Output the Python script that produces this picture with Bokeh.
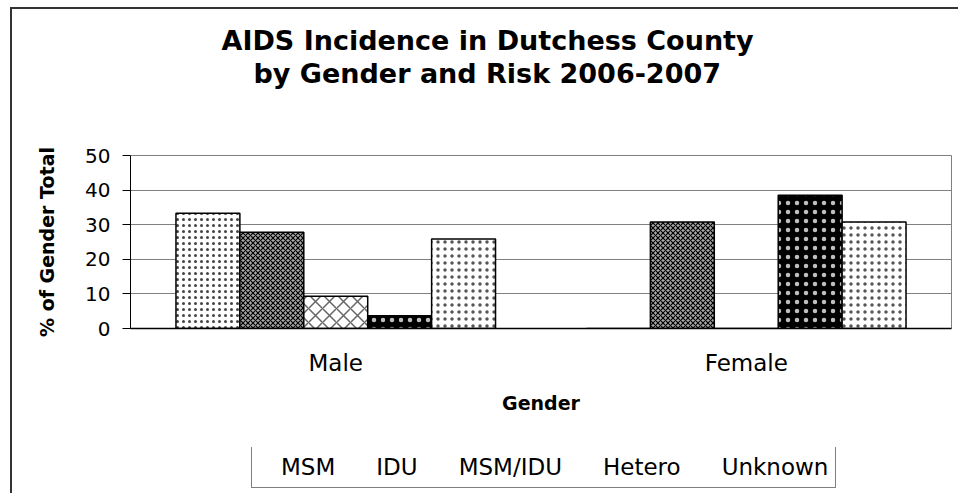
from bokeh.plotting import figure
from bokeh.layouts import column
from bokeh.models import (FactorRange, Range1d, Legend, LegendItem, Title,
                          CategoricalAxis, FixedTicker, ColumnDataSource)
from bokeh.transform import dodge
from bokeh.embed import file_html
from bokeh.resources import INLINE

genders = ["Male", "Female"]
risks = ["MSM", "IDU", "MSM/IDU", "Hetero", "Unknown"]
msm = [33.3, 0.0]
idu = [27.8, 30.8]
msm_idu = [9.3, 0.0]
hetero = [3.7, 38.5]
unknown = [25.9, 30.8]
y_ticks = [0, 10, 20, 30, 40, 50]

FONT = "DejaVu Sans"

p = figure(x_range=FactorRange(*genders, range_padding=0), y_range=Range1d(0, 50),
           width=958, height=447, output_backend="svg", toolbar_location=None,
           x_axis_location=None, title=None,
           min_border_left=130, min_border_top=155, min_border_right=7, min_border_bottom=119)
p.border_fill_alpha = 0
p.styles = {"background": "linear-gradient(#333,#333) 10px 7px / 2px 100% no-repeat, "
                          "linear-gradient(#333,#333) 10px 7px / 100% 2px no-repeat, #ffffff"}

src = ColumnDataSource(dict(gender=genders, msm=msm, idu=idu, msm_idu=msm_idu,
                            hetero=hetero, unknown=unknown))
cols = ["msm", "idu", "msm_idu", "hetero", "unknown"]
bw = 0.1557
offsets = [-2 * bw, -bw, 0.0, bw, 2 * bw]
styles = [
    dict(fill_color="white", hatch_pattern="dot", hatch_color="#444", hatch_scale=6, hatch_weight=1.5),
    dict(fill_color="#a8a8a8", hatch_pattern="diagonal_cross", hatch_color="black", hatch_scale=5, hatch_weight=1.2),
    dict(fill_color="white", hatch_pattern="diagonal_cross", hatch_color="#666", hatch_scale=14, hatch_weight=1.5),
    dict(fill_color="black", hatch_pattern="dot", hatch_color="white", hatch_scale=9, hatch_weight=0.5, hatch_alpha=0.75),
    dict(fill_color="white", hatch_pattern="dot", hatch_color="#555", hatch_scale=7, hatch_weight=1.5),
]
for col, off, st in zip(cols, offsets, styles):
    p.vbar(x=dodge("gender", off, range=p.x_range), top=col, width=bw, source=src,
           line_color="black", line_width=1.5, **st)

# y axis
p.yaxis.ticker = FixedTicker(ticks=y_ticks)
p.yaxis.axis_line_color = "black"
p.yaxis.major_tick_out = 8
p.yaxis.major_tick_in = 0
p.yaxis.minor_tick_line_color = None
p.yaxis.major_tick_line_color = "black"
p.yaxis.major_label_text_font = FONT
p.yaxis.major_label_text_font_size = "20px"
p.yaxis.major_label_text_color = "black"
p.yaxis.major_label_standoff = 12
p.yaxis.axis_label = "% of Gender Total"
p.yaxis.axis_label_text_font = FONT
p.yaxis.axis_label_text_font_size = "19px"
p.yaxis.axis_label_text_font_style = "bold"
p.yaxis.axis_label_text_color = "black"
p.yaxis.axis_label_standoff = 24

p.ygrid.grid_line_color = "#808080"
p.ygrid.grid_line_width = 1
p.xgrid.grid_line_color = None
p.outline_line_color = "#808080"
p.outline_line_width = 1

cat_axis = CategoricalAxis(axis_line_color="black", axis_line_width=1.5,
                           major_tick_line_color=None, minor_tick_line_color=None,
                           major_label_text_font=FONT, major_label_text_font_size="23px",
                           major_label_text_color="black", major_label_standoff=15,
                           axis_label="Gender", axis_label_text_font=FONT,
                           axis_label_text_font_size="19px", axis_label_text_font_style="bold",
                           axis_label_text_color="black", axis_label_standoff=13)
p.add_layout(cat_axis, "below")

# titles
spacer = Title(text=" ", text_font_size="58px", standoff=0)
t2 = Title(text="by Gender and Risk 2006-2007", align="left", offset=123,
           text_font=FONT, text_font_size="27px", text_font_style="bold", text_color="black", standoff=0)
t1 = Title(text="AIDS Incidence in Dutchess County", align="left", offset=91,
           text_font=FONT, text_font_size="27px", text_font_style="bold", text_color="black", standoff=0)
p.add_layout(spacer, "above")
p.add_layout(t2, "above")
p.add_layout(t1, "above")

# legend strip below the chart: legend-only renderers with the same styles, no data drawn
p2 = figure(x_range=FactorRange(*genders, range_padding=0), y_range=Range1d(0, 50),
            width=958, height=46, output_backend="svg", toolbar_location=None,
            x_axis_location=None, y_axis_location=None, title=None,
            min_border_left=0, min_border_top=0, min_border_right=0, min_border_bottom=0)
p2.grid.grid_line_color = None
p2.outline_line_color = None
p2.border_fill_alpha = 0
p2.background_fill_alpha = 0
p2.styles = {"background": "linear-gradient(#333,#333) 10px 0px / 2px 100% no-repeat, #ffffff"}
empty_src = ColumnDataSource(dict(gender=[], msm=[], idu=[], msm_idu=[], hetero=[], unknown=[]))
items = []
for col, off, st, name in zip(cols, offsets, styles, risks):
    r = p2.vbar(x=dodge("gender", off, range=p2.x_range), top=col, width=bw, source=empty_src,
                line_color="black", line_width=1.5, **st)
    items.append(LegendItem(label=name, renderers=[r]))

legend = Legend(items=items, orientation="horizontal", location=(121, 5), margin=0,
                padding=7, spacing=19, label_standoff=10, glyph_width=12, glyph_height=12,
                border_line_color="black", border_line_width=1,
                label_text_font=FONT, label_text_font_size="23px", label_text_color="black",
                background_fill_color="white", background_fill_alpha=1)
p2.add_layout(legend, "center")

layout = column(p, p2, spacing=0)
open("out.html", "w").write(file_html(layout, INLINE))
